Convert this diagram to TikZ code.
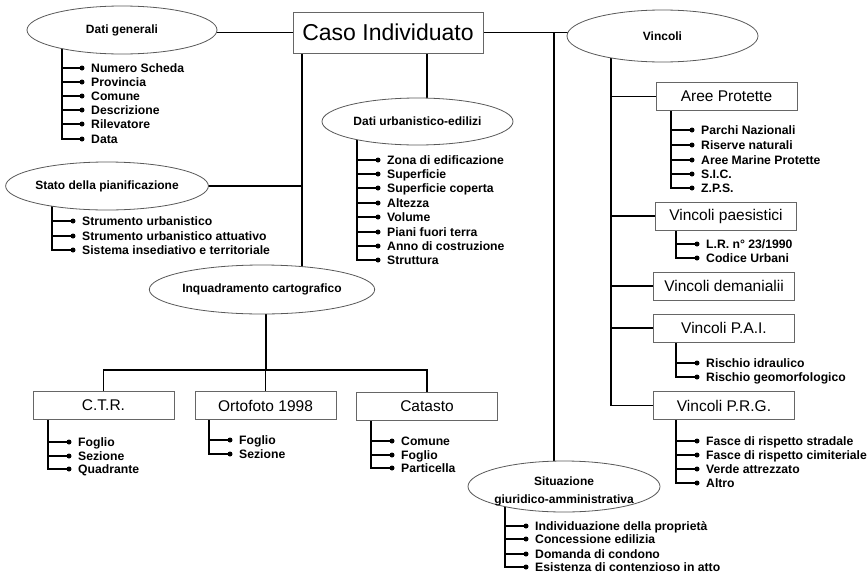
\documentclass[tikz,border=0pt]{standalone}
\usepackage{fontspec}
\setmainfont{Liberation Sans}
\usetikzlibrary{shapes.geometric,backgrounds}
\tikzset{
  x=1pt, y=-1pt,
  conn/.style={line width=1.5pt, draw=black, line cap=rect},
  ell/.style={ellipse, draw=black!65, line width=0.8pt, fill=white, inner sep=0pt,
    font=\fontsize{12}{14}\selectfont\bfseries},
  box/.style={rectangle, draw=black!60, line width=0.8pt, fill=white, inner sep=0pt,
    minimum width=141pt, minimum height=28pt, font=\fontsize{15.5}{18}\selectfont},
  item/.style={anchor=base west, inner sep=0pt, font=\fontsize{12.2}{14}\selectfont\bfseries},
  dot/.style={circle, fill=black, inner sep=0pt, minimum size=5pt}
}
\newcommand\blist[5]{%
  \foreach \yy/\txt [count=\i] in {#5}{%
    \node[dot] (#1d\i) at (#4,\yy) {};
    \node[item] (#1t\i) at ({#4+9},{\yy+4.3}) {\txt};
    \draw[conn] (#3,\yy) -- (#1d\i.center);
    \xdef\lasty{\yy}%
  }
  \begin{scope}[on background layer]
    \draw[conn] (#3,0 |- #2.center) -- (#3,\lasty);
  \end{scope}
}
\begin{document}
\begin{tikzpicture}
\useasboundingbox (0,0) rectangle (868,576);
\begin{scope}[on background layer]
  \fill[white] (0,0) rectangle (868,576);
\end{scope}

% main node
\node[draw=black!60, line width=0.8pt, fill=white, inner sep=0pt,
  minimum width=190pt, minimum height=41pt, font=\fontsize{23}{26}\selectfont]
  (main) at (388,32.5) {Caso Individuato};

% ellipses
\node[ell, minimum width=190pt, minimum height=48pt] (dg) at (122,30) {Dati generali};
\node[ell, minimum width=191pt, minimum height=52pt] (vin) at (662.5,36) {Vincoli};
\node[ell, minimum width=191pt, minimum height=47pt] (du) at (417.5,121.5) {Dati urbanistico-edilizi};
\node[ell, minimum width=190pt, minimum height=48pt] (sp) at (107,186) {Stato della pianificazione};
\node[ell, minimum width=191pt, minimum height=49pt] (inq) at (262,289.5) {Inquadramento cartografico};
\node[ell, minimum width=192pt, minimum height=51pt] (sg) at (564,486.5) {};
\node[align=center, inner sep=0pt, font=\fontsize{12}{18}\selectfont\bfseries]
  (sgt) at (564,491) {Situazione\\giuridico-amministrativa};

% boxes
\node[box] (ctr) at (103.5,405.5) {C.T.R.};
\node[box] (orto) at (265.5,405.5) {Ortofoto 1998};
\node[box] (cat) at (427,406) {Catasto};
\node[box] (ap) at (726.5,96.5) {Aree Protette};
\node[box] (vp) at (726,216) {Vincoli paesistici};
\node[box] (vd) at (724,286) {Vincoli demanialii};
\node[box] (vpai) at (724,328) {Vincoli P.A.I.};
\node[box] (vprg) at (724,405.5) {Vincoli P.R.G.};

\coordinate (hbar) at (266,370);

% main connectors (behind nodes)
\begin{scope}[on background layer]
  \draw[conn] (main.center) -- (dg.center |- main.center);
  \draw[conn] (main.center) -- (vin.center |- main.center);
  \draw[conn] (427,0 |- main.center) -- (427,0 |- du.center);
  \draw[conn] (302,0 |- main.center) -- (302,0 |- inq.center);
  \draw[conn] (sp.center) -- (302,0 |- sp.center);
  \draw[conn] (554,0 |- main.center) -- (554,0 |- sg.center);
  \draw[conn] (611,0 |- vin.center) -- (611,0 |- vprg.center) -- (vprg.center);
  \draw[conn] (611,0 |- ap.center) -- (ap.center);
  \draw[conn] (611,0 |- vp.center) -- (vp.center);
  \draw[conn] (611,0 |- vd.center) -- (vd.center);
  \draw[conn] (611,0 |- vpai.center) -- (vpai.center);
  \draw[conn] (hbar |- inq.center) -- (hbar);
  \draw[conn] (ctr.center |- hbar) -- (cat.center |- hbar);
  \draw[conn] (ctr.center |- hbar) -- (ctr.center);
  \draw[conn] (orto.center |- hbar) -- (orto.center);
  \draw[conn] (cat.center |- hbar) -- (cat.center);
\end{scope}

% lists
\blist{dgl}{dg}{62}{82}{68/Numero Scheda,82/Provincia,96/Comune,110/Descrizione,124/Rilevatore,139/Data}
\blist{spl}{sp}{52}{73}{221/Strumento urbanistico,236/Strumento urbanistico attuativo,250/Sistema insediativo e territoriale}
\blist{dul}{du}{357}{378}{160/Zona di edificazione,174/Superficie,188/Superficie coperta,203/Altezza,217/Volume,232/Piani fuori terra,246/Anno di costruzione,260/Struttura}
\blist{ctrl}{ctr}{48}{69}{442/Foglio,456/Sezione,469/Quadrante}
\blist{ortl}{orto}{209}{230}{440/Foglio,454/Sezione}
\blist{catl}{cat}{371}{392}{441/Comune,455/Foglio,468/Particella}
\blist{apl}{ap}{671}{692}{130/Parchi Nazionali,145/Riserve naturali,160/Aree Marine Protette,174/S.I.C.,188/Z.P.S.}
\blist{vpl}{vp}{676}{697}{244/{L.R. n° 23/1990},258/Codice Urbani}
\blist{pail}{vpai}{676}{697}{363/Rischio idraulico,377/Rischio geomorfologico}
\blist{prgl}{vprg}{676}{697}{441/Fasce di rispetto stradale,455/Fasce di rispetto cimiteriale,469/Verde attrezzato,483/Altro}
\blist{sgl}{sg}{505}{526}{526/Individuazione della proprietà,539/Concessione edilizia,554/Domanda di condono,567/Esistenza di contenzioso in atto}
\end{tikzpicture}
\end{document}
